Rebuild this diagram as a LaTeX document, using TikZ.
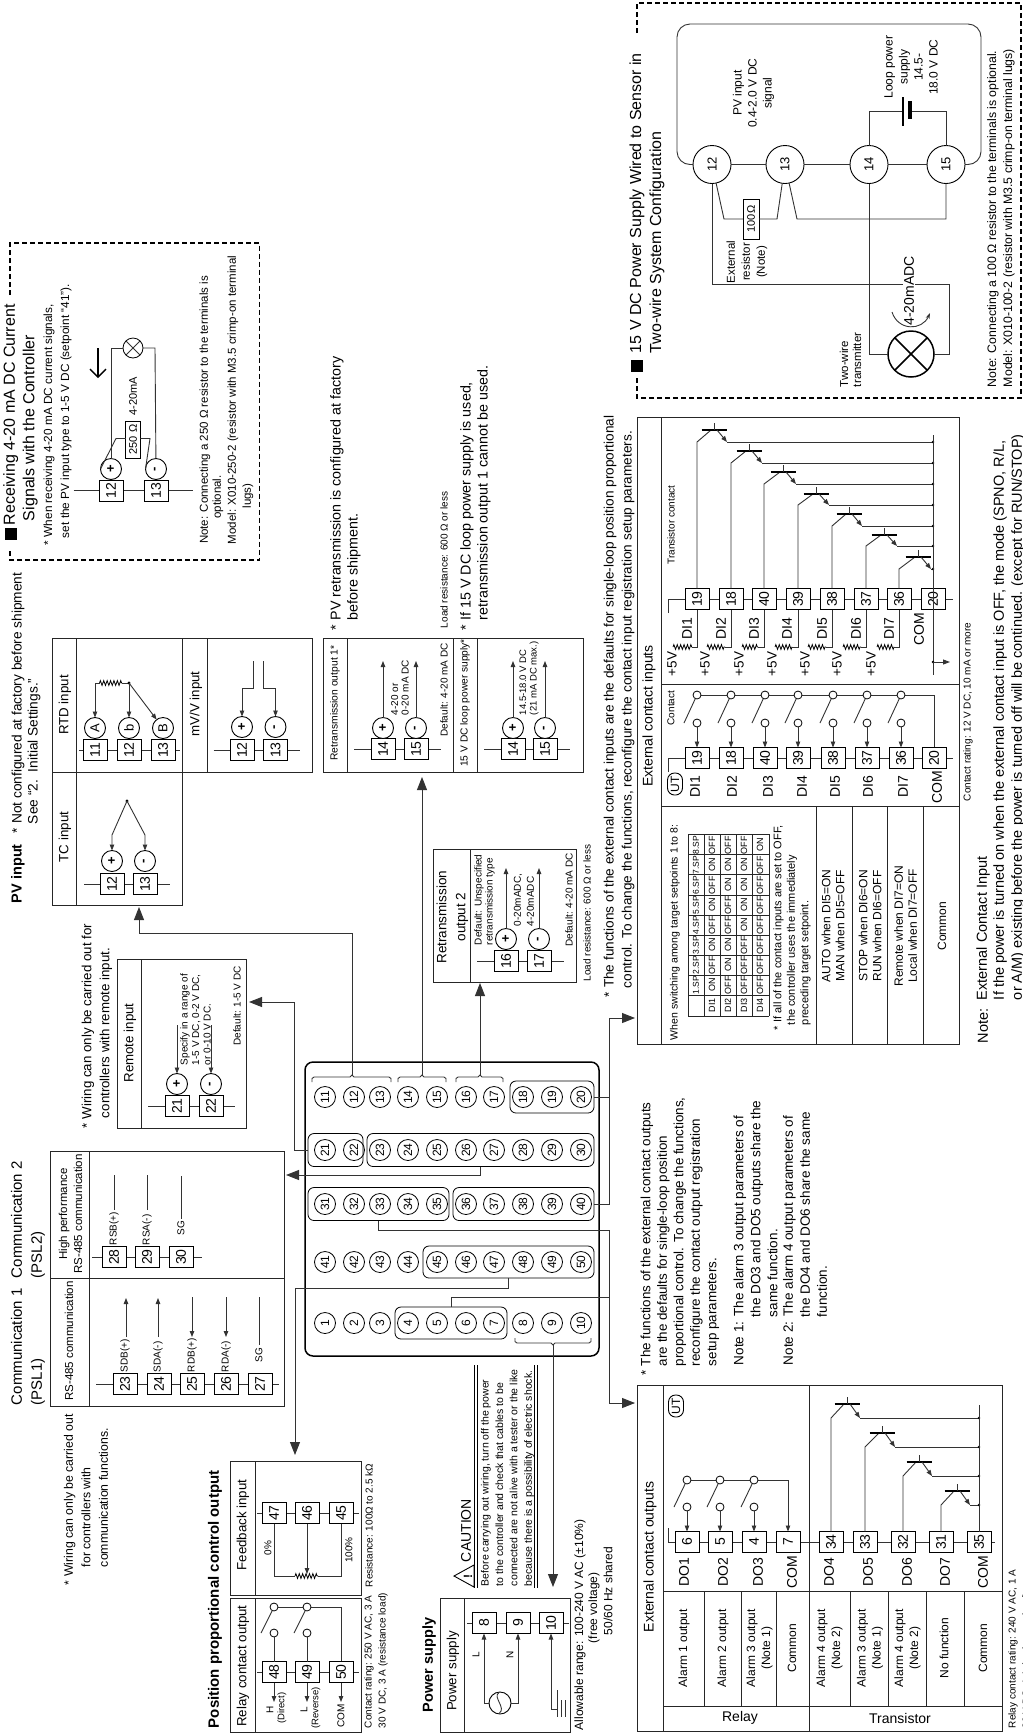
\documentclass[tikz,border=0pt]{standalone}
\usepackage{fontspec}
\setmainfont{Liberation Sans}
\usetikzlibrary{arrows.meta,backgrounds,decorations.pathmorphing}
\newcounter{tn}
\newcommand\fs[2]{\fontsize{#1}{#2}\selectfont}
\newcommand\tx[4][]{\stepcounter{tn}\node[rtext,#1] (tx\arabic{tn}) at (#2,#3) {#4};}
\newcommand\Tb[4]{\node[termbox] (#1) at (#2,#3) {#4};}
\newcommand\PM[4]{\node[pmc] (#1) at (#2,#3) {#4};}
\newcommand\frm[5]{\node[framebox,minimum width={(#4-#2)*1pt},minimum height={(#5-#3)*1pt}] (#1) at ({(#2+#4)/2},{(#3+#5)/2}) {};}
\newcommand\lnn[4]{\draw[frameline] (#1,#2) -- (#3,#4);}
\newcommand\res[3]{\draw[resist] (#1,#3) -- (#2,#3);}
\newcommand\strip[3]{\draw[wire] (#1.center -| #2,0) -- (#1.center -| #3,0);}
\newcommand\grp[5]{\node[grpbox,minimum width=#4,minimum height=#5] (#1) at (#2,#3) {};}
\newcommand\brk[6]{\coordinate (#1) at (#3,{#5-2*#6});
 \draw[wire] (#2,{#5+5*#6}) -- (#2,{#5+1.5*#6}) -- ({#2+2},#5) -- ({#3-2},#5) -- (#1) -- ({#3+2},#5) -- ({#4-2},#5) -- (#4,{#5+1.5*#6}) -- (#4,{#5+5*#6});}
\newcommand\cont[5][]{\node[ring] (#2u) at (#3,#4) {}; \node[ring] (#2l) at (#3,#5) {};
 \draw[wire] (#2u) -- ({#3-13},#5); \draw[wire,#1] (#2l) -- (#2.east);}
% transistor: terminal, base x, bar y, emitter y, bus x
\newcommand\tran[5]{\coordinate (#1c) at (#1.center |- 0,#4); \coordinate (#1e) at (#5,#4);
 \draw[wire] (#1.east) -- (#1c) -- ({#2-3},#3);
 \draw[thick wire] ({#2-12.5},#3) -- ({#2+12.5},#3);
 \draw[wire] (#2,{#3-7}) -- (#2,#3);
 \draw[wire,sarrow] ({#2+3},#3) -- ({#2+13},#4);
 \draw[wire] ({#2+13},#4) -- (#1e);
 \fill (#1e) circle (1.4);}
\newcommand\trow[3]{\tx[font=\fs{9}{10}]{#1}{1005}{#2}\foreach \v [count=\i] in {#3}{\pgfmathsetmacro\yy{1005-20*\i}\tx[font=\fs{9}{10}]{#1}{\yy}{\v}}}
\tikzset{
 wire/.style={line width=.9pt,draw=black!80},
 thick wire/.style={line width=1.5pt,draw=black},
 frameline/.style={line width=.9pt,draw=black!85},
 framebox/.style={draw=black!85,line width=.9pt,inner sep=0,outer sep=0},
 termbox/.style={draw=black,line width=.9pt,fill=white,rotate=90,minimum width=21pt,minimum height=24pt,inner sep=0,outer sep=0,font=\fs{14}{14}},
 pmc/.style={draw=black,line width=.9pt,fill=white,circle,rotate=90,minimum size=21pt,inner sep=0,outer sep=0,font=\bfseries\fs{13}{13}},
 ring/.style={draw=black,line width=.8pt,fill=white,circle,minimum size=8pt,inner sep=0,outer sep=0},
 cterm/.style={draw=black,line width=.8pt,circle,rotate=90,minimum size=21pt,inner sep=0,outer sep=0,font=\fs{12}{12}},
 bigterm/.style={draw=black,line width=.9pt,fill=white,circle,rotate=90,minimum size=38pt,inner sep=0,outer sep=0,font=\fs{13}{13}},
 grpbox/.style={draw=black,line width=.8pt,rounded corners=6pt,inner sep=0,outer sep=0},
 rtext/.style={rotate=90,inner sep=0,outer sep=0,align=center,font=\fs{12}{17}},
 lft/.style={anchor=west,align=left},
 sarrow/.style={-{Triangle[length=6pt,width=4.5pt]}},
 bigar/.style={-{Triangle[length=13pt,width=10pt]}},
 resist/.style={line width=.8pt,decorate,decoration={zigzag,segment length=3.4pt,amplitude=2.4pt}},
 dashbox/.style={line width=1.2pt,dash pattern=on 5pt off 3pt},
}
\begin{document}
\begin{tikzpicture}[x=1pt,y=-1pt]
\useasboundingbox (0,0) rectangle (1023,1733);

%%% ---------- central terminal block
\node[draw=black,line width=1.5pt,rounded corners=8pt,minimum width=294pt,minimum height=294pt,inner sep=0,outer sep=0] (block) at (452,1209) {};
\foreach \base/\yy in {10/1097,20/1150,30/1204,40/1262,0/1323}{
 \foreach \k/\xx in {1/325,2/354,3/380,4/408,5/437,6/466,7/494,8/523,9/552,10/581}{
  \pgfmathtruncatemacro\n{\base+\k}
  \node[cterm] (c\n) at (\xx,\yy) {\n};
 }}
\grp{g18}{552}{1097}{84pt}{32pt}
\grp{g21}{335.5}{1150}{55pt}{33pt}
\grp{g23}{480.5}{1150}{227pt}{33pt}
\grp{g31}{378.5}{1204}{141pt}{33pt}
\grp{g36}{523.5}{1204}{141pt}{33pt}
\grp{g45}{508.5}{1262}{171pt}{32pt}
\grp{g4}{451}{1323}{112pt}{32pt}
\brk{b1}{312}{352}{391}{1077}{1}
\brk{b2}{398}{422}{446}{1077}{1}
\brk{b3}{456}{480}{503}{1077}{1}
\brk{b4}{515}{553}{591}{1343}{-1}

%%% ---------- frames
\frm{posR}{230}{1598}{361}{1732}
\frm{fbbox}{230}{1461}{361}{1595}
\frm{pwr}{440}{1598}{570}{1732}
\frm{comm}{50.5}{1151}{284}{1406}
\frm{rem}{117}{959}{246}{1128}
\frm{ret2}{433}{849}{576}{982}
\frm{ret1}{323}{638}{583}{772}
\frm{pvtop}{52}{638}{312}{772}
\frm{tcbox}{52}{772}{182}{905}
\frm{einbox}{637}{417}{959}{1044}
\frm{eoutbox}{637}{1385}{1002}{1731}

%%% ---------- connectors from the block
\coordinate (jtc) at (139,933);
\draw[wire,bigar,shorten >=2pt] (b1) |- (jtc) -- (jtc |- tcbox.south);
\draw[wire,bigar,shorten >=5pt] (b2) -- (b2 |- ret1.south);
\draw[wire,bigar,shorten >=1pt] (b3) -- (b3 |- ret2.south);
\coordinate (ji) at (609,1018); \coordinate (jo) at (609,1230); \coordinate (jo2) at (609,1403); \coordinate (jo3) at (609,1297);
\draw[wire,bigar,shorten >=2pt] (g36.east) -| (ji) -- (ji -| einbox.west);
\draw[wire] (g18.east) -- (g18.east -| ji);
\draw[wire,bigar,shorten >=2pt] (g31.south) |- (jo) -- (jo2) -- (jo2 -| eoutbox.west);
\draw[wire] (g4.north) |- (jo3);
\coordinate (jp) at (295,1288);
\draw[wire,bigar,shorten >=6pt] (g45.south) |- (jp) -- (jp |- fbbox.north);
\coordinate (jr1) at (294,1150); \coordinate (jr2) at (294,1002);
\draw[wire,bigar,shorten >=3pt] (g21.west) -- (jr1) -- (jr2) -- (jr2 -| rem.east);
\coordinate (jc) at (480.5,1175);
\draw[wire,bigar,shorten >=2pt] (g23.south) -- (jc) -- (jc -| comm.east);
\draw[wire,bigar,shorten >=11pt] (b4) -- (b4 |- pwr.north);

%%% ---------- position proportional output
\tx[font=\bfseries\fs{15}{15},lft]{215}{1728}{Position proportional control output}
\lnn{255}{1461}{255}{1595}\lnn{255}{1598}{255}{1732}
\tx[font=\fs{13.3}{13}]{243}{1666}{Relay contact output}
\tx[font=\fs{13.3}{13}]{243}{1525}{Feedback input}
\Tb{T47}{274}{1513}{47}\Tb{T46}{307}{1513}{46}\Tb{T45}{341}{1513}{45}
\coordinate (fa) at (295,1576);\coordinate (fb) at (318,1576);\coordinate (fd) at (307,1574);
\res{295}{318}{1576}
\draw[wire] (T47.west) |- (fa);
\draw[wire] (T45.west) |- (fb);
\draw[wire,sarrow] (T46.west) -- (fd);
\tx[font=\fs{10}{10}]{268}{1548}{0\%}
\tx[font=\fs{10}{10}]{349}{1550}{100\%}
\tx[font=\fs{10}{10},lft]{369}{1587}{Resistance: 100Ω to 2.5 kΩ}
\Tb{T48}{274}{1672}{48}\Tb{T49}{307}{1672}{49}\Tb{T50}{341}{1672}{50}
\cont{T48}{274}{1607}{1633}
\cont{T49}{307}{1607}{1633}
\coordinate (o1) at (274,1702);\coordinate (o2) at (307,1702);\coordinate (o3) at (341,1702);
\draw[wire,sarrow] (T48.west) -- (o1);
\draw[wire,sarrow] (T49.west) -- (o2);
\draw[wire,sarrow] (T50.west) -- (o3);
\tx[font=\fs{10}{10}]{270}{1710}{H}
\tx[font=\fs{9.5}{10}]{282}{1708}{(Direct)}
\tx[font=\fs{10}{10}]{304}{1710}{L}
\tx[font=\fs{9.5}{10}]{316}{1708}{(Reverse)}
\tx[font=\fs{10}{10}]{341}{1716}{COM}
\tx[font=\fs{10}{14},lft]{376}{1728}{Contact rating: 250 V AC, 3 A\\30 V DC, 3 A (resistance load)}

%%% ---------- power supply
\tx[font=\bfseries\fs{14.5}{15}]{429}{1665}{Power supply}
\lnn{464.5}{1598}{464.5}{1732}
\tx[font=\fs{13.3}{13}]{453}{1671}{Power supply}
\Tb{T8}{484}{1623}{8}\Tb{T9}{518}{1623}{9}\Tb{T10}{551}{1623}{10}
\node[circle,draw=black,line width=.9pt,minimum size=22pt,inner sep=0,outer sep=0] (ac) at (500,1703) {};
\draw[wire] (499,1692.5) .. controls (492,1697) and (507,1708) .. (499,1713.5);
\draw[wire,sarrow] (ac.west) -| (T8.west);
\draw[wire,sarrow] (ac.east) -| (T9.west);
\coordinate (gnd) at (557,1709);
\draw[wire,sarrow] (gnd) -| (T10.west);
\draw[wire] (557,1690) -- (557,1717);\draw[wire] (561,1700) -- (561,1717);\draw[wire] (565,1700) -- (565,1717);
\tx[font=\fs{10}{10}]{476}{1655}{L}
\tx[font=\fs{10}{10}]{510}{1655}{N}
\draw[line width=.9pt] (454,1576) -- (474,1565) -- (474,1587) -- cycle;
\tx[font=\bfseries\fs{12}{12}]{468}{1576}{!}
\tx[font=\fs{14}{14},lft]{466}{1562}{CAUTION}
\draw[line width=.9pt] (474.5,1365) -- (474.5,1588);\draw[line width=.9pt] (477.5,1365) -- (477.5,1588);
\draw[line width=.9pt] (534.5,1365) -- (534.5,1588);\draw[line width=.9pt] (537.5,1365) -- (537.5,1588);
\tx[font=\fs{10.5}{14.4},lft]{507.5}{1586}{Before carrying out wiring, turn off the power\\to the controller and check that cables to be\\connected are not alive with a tester or the like\\because there is a possibility of electric shock.}
\tx[font=\fs{12}{14},lft]{580}{1730}{Allowable range: 100-240 V AC (±10\%)}
\tx[font=\fs{12}{14},lft]{594}{1643}{(free voltage)}
\tx[font=\fs{12}{14},lft]{608}{1635}{50/60 Hz shared}

%%% ---------- communication
\tx[font=\fs{15}{20},lft]{28}{1405}{Communication 1\\(PSL1)}
\tx[font=\fs{15}{20},lft]{28}{1278}{Communication 2\\(PSL2)}
\lnn{89}{1151}{89}{1406}\lnn{50.5}{1278}{284}{1278}
\tx[font=\fs{11.5}{15}]{69}{1341}{RS-485 communication}
\tx[font=\fs{11.5}{15}]{70.5}{1214}{High performance\\RS-485 communication}
\Tb{T23}{125}{1384}{23}\Tb{T24}{159}{1384}{24}\Tb{T25}{192}{1384}{25}\Tb{T26}{226}{1384}{26}\Tb{T27}{260}{1384}{27}
\tx[font=\fs{10}{10},lft]{125}{1372}{SDB(+)}
\tx[font=\fs{10}{10},lft]{158}{1372}{SDA(-)}
\tx[font=\fs{10}{10},lft]{192}{1372}{RDB(+)}
\tx[font=\fs{10}{10},lft]{226}{1372}{RDA(-)}
\tx[font=\fs{10}{10},lft]{259}{1362}{SG}
\coordinate (p1) at (126,1337);\coordinate (q1) at (126,1298);
\coordinate (p2) at (158,1337);\coordinate (q2) at (158,1298);
\coordinate (p3) at (192,1297);\coordinate (q3) at (192,1337);
\coordinate (p4) at (226,1297);\coordinate (q4) at (226,1337);
\coordinate (p5) at (259,1297);\coordinate (q5) at (259,1345);
\draw[wire,sarrow] (p1) -- (q1);\draw[wire,sarrow] (p2) -- (q2);
\draw[wire,sarrow] (p3) -- (q3);\draw[wire,sarrow] (p4) -- (q4);
\draw[wire] (p5) -- (q5);
\Tb{T28}{114}{1257}{28}\Tb{T29}{147}{1257}{29}\Tb{T30}{181}{1257}{30}
\tx[font=\fs{10}{10},lft]{114}{1245}{RSB(+)}
\tx[font=\fs{10}{10},lft]{147}{1245}{RSA(-)}
\tx[font=\fs{10}{10},lft]{181}{1235}{SG}
\coordinate (r1) at (114,1175);\coordinate (s1) at (114,1210);
\coordinate (r2) at (147,1175);\coordinate (s2) at (147,1210);
\coordinate (r3) at (181,1176);\coordinate (s3) at (181,1219);
\draw[wire] (r1) -- (s1);\draw[wire] (r2) -- (s2);\draw[wire] (r3) -- (s3);
\tx[font=\fs{12.3}{17.5},lft]{86}{1585}{* Wiring can only be carried out\\\hspace*{18pt}for controllers with\\\hspace*{18pt}communication functions.}

%%% ---------- remote input
\lnn{141}{959}{141}{1128}
\tx[font=\fs{13.3}{13}]{130}{1043}{Remote input}
\tx[font=\fs{13.3}{18},lft]{97}{1128}{* Wiring can only be carried out for\\\hspace*{10pt}controllers with remote input.}
\Tb{T21}{177}{1106}{21}\Tb{T22}{211}{1106}{22}
\PM{P21}{177}{1084}{+}\PM{P22}{211}{1084}{-}
\coordinate (u1) at (177,1025);\coordinate (u2) at (211,1025);
\draw[wire,sarrow] (u1) -- (P21);\draw[wire,sarrow] (u2) -- (P22);
\tx[font=\fs{10}{11.5},lft]{195.5}{1065}{Specify in a range of\\1-5 V DC, 0-2 V DC,\\or 0-10 V DC.}
\tx[font=\fs{10}{10}]{237}{1006}{Default: 1-5 V DC}

%%% ---------- retransmission 2
\lnn{470}{849}{470}{982}
\tx[font=\fs{13.5}{19}]{452.5}{917}{Retransmission\\output 2}
\tx[font=\fs{10}{11},lft]{484.5}{945}{Default: Unspecified\\retransmission type}
\Tb{T16}{506}{961}{16}\Tb{T17}{539}{961}{17}
\PM{P16}{506}{939}{+}\PM{P17}{539}{939}{-}
\coordinate (v1) at (506,868);\coordinate (v2) at (539,868);
\draw[wire,sarrow] (P16) -- (v1);\draw[wire,sarrow] (P17) -- (v2);
\tx[font=\fs{10}{13},lft]{524}{926}{0-20mADC,\\4-20mADC}
\tx[font=\fs{10}{10}]{569}{900}{Default: 4-20 mA DC}
\tx[font=\fs{10}{10}]{587}{913}{Load resistance: 600 Ω or less}

%%% ---------- retransmission 1
\lnn{347}{638}{347}{772}\lnn{453}{638}{453}{772}\lnn{477}{638}{477}{772}
\tx[font=\fs{10.3}{11}]{335}{703}{Retransmission output 1*}
\tx[font=\fs{10.2}{11}]{465}{703}{15 V DC loop power supply*}
\Tb{T14}{383}{749}{14}\Tb{T15}{416}{749}{15}
\PM{P14}{383}{728}{+}\PM{P15}{416}{728}{-}
\coordinate (w1) at (383,661);\coordinate (w2) at (416,661);
\draw[wire,sarrow] (P14) -- (w1);\draw[wire,sarrow] (P15) -- (w2);
\tx[font=\fs{10}{10.5},lft]{400}{715}{4-20 or\\0-20 mA DC}
\tx[font=\fs{10}{10}]{444}{690}{Default: 4-20 mA DC}
\Tb{Tx14}{513}{749}{14}\Tb{Tx15}{545}{749}{15}
\PM{Px14}{513}{728}{+}\PM{Px15}{545}{728}{-}
\coordinate (w3) at (513,661);\coordinate (w4) at (545,661);
\draw[wire,sarrow] (Px14) -- (w3);\draw[wire,sarrow] (Px15) -- (w4);
\tx[font=\fs{9.5}{10.5},lft]{529}{715}{14.5-18.0 V DC\\(21 mA DC max.)}
\tx[font=\fs{10}{10},lft]{444}{628}{Load resistance: 600 Ω or less}
\tx[font=\fs{14.3}{17},lft]{345.5}{630}{* PV retransmission is configured at factory\\\hspace*{10pt}before shipment.}
\tx[font=\fs{14.3}{17},lft]{475.5}{630}{* If 15 V DC loop power supply is used,\\\hspace*{10pt}retransmission output 1 cannot be used.}

%%% ---------- PV input
\tx[font=\bfseries\fs{14.5}{15},lft]{18}{903}{PV input}
\tx[font=\fs{13.7}{16},lft]{26}{833}{* Not configured at factory before shipment\\\hspace*{9pt}See “2.\ \ Initial Settings.”}
\lnn{76.5}{638}{76.5}{905}\lnn{182}{638}{182}{772}\lnn{207}{638}{207}{772}
\tx[font=\fs{13.3}{13}]{65}{705}{RTD input}
\tx[font=\fs{13.3}{13}]{196}{704}{mV/V input}
\tx[font=\fs{13.3}{13}]{65}{837}{TC input}
\Tb{Ra}{95}{750}{11}\Tb{Rb}{129}{750}{12}\Tb{Rc}{163}{750}{13}
\PM{CA}{95}{728}{\mdseries A}\PM{Cb}{129}{728}{\mdseries b}\PM{CB}{163}{728}{\mdseries B}
\coordinate (ra) at (95,683);\coordinate (rb) at (99.5,683);\coordinate (rc) at (122,683);\coordinate (rd) at (129,683);
\res{99.5}{122}{683}
\draw[wire] (rb) -- (ra);\draw[wire] (rc) -- (rd);
\fill (rd) circle (1.6);
\draw[wire,sarrow] (ra) -- (CA);\draw[wire,sarrow] (rd) -- (Cb);\draw[wire,sarrow] (rd) -- (CB);
\Tb{Mp}{242}{750}{12}\Tb{Mm}{275.5}{750}{13}
\PM{MP}{242}{727}{+}\PM{MM}{275.5}{727}{-}
\coordinate (m1) at (253,661);\coordinate (m2) at (253,688);\coordinate (m3) at (242,688);
\coordinate (m4) at (263,661);\coordinate (m5) at (263,688);\coordinate (m6) at (275.5,688);
\draw[wire,sarrow] (m1) -- (m2) -- (m3) -- (MP);
\draw[wire,sarrow] (m4) -- (m5) -- (m6) -- (MM);
\Tb{Tp}{112}{884}{12}\Tb{Tm}{145}{884}{13}
\PM{TP}{112}{861}{+}\PM{TM}{145}{861}{-}
\coordinate (t0) at (127,801);\coordinate (t1) at (112,835);\coordinate (t2) at (145,835);
\fill (t0) circle (1.6);
\draw[wire,sarrow] (t0) -- (t1) -- (TP);
\draw[wire,sarrow] (t0) -- (t2) -- (TM);

%%% ---------- receiving 4-20 mA box
\draw[dashbox] (10,295) -- (10,243) -- (259.5,243) -- (259.5,560) -- (10,560) -- (10,550);
\fill (5,528) rectangle (17,540);
\tx[font=\fs{16}{19.5},lft]{20.5}{525}{Receiving 4-20 mA DC Current\\\hspace*{4pt}Signals with the Controller}
\tx[font=\fs{11.8}{17},lft]{57.5}{545}{* When receiving 4-20 mA DC current signals,\\\hspace*{7pt}set the PV input type to 1-5 V DC (setpoint “41”).}
\Tb{R12}{111}{490.5}{12}\Tb{R13}{156}{490.5}{13}
\PM{Rp}{111}{469}{+}\PM{Rm}{156}{469}{-}
\node[draw=black,line width=.8pt,rotate=90,minimum width=37pt,minimum height=14.5pt,inner sep=0,outer sep=0,font=\fs{11}{11}] (r250) at (133,439.5) {250 Ω};
\coordinate (r1a) at (116,438.5);\coordinate (r1b) at (150,438.5);
\draw[wire] (Rp.north) -- (r1a) -- (r1a -| r250.north);
\draw[wire] (r250.south |- r1b) -- (r1b) -- (Rm.north);
\node[draw=black,line width=.8pt,circle,minimum size=20pt,inner sep=0,outer sep=0] (lampa) at (133,348) {};
\draw[wire] (lampa.45) -- (lampa.225);\draw[wire] (lampa.135) -- (lampa.315);
\coordinate (la1) at (111,348);\coordinate (la2) at (155,348);
\draw[wire] (Rp) -- (la1) -- (lampa.west);
\draw[wire] (Rm) -- (la2) -- (lampa.east);
\tx[font=\fs{11}{11}]{133}{396}{4-20mA}
\coordinate (aa) at (98,348);\coordinate (ab) at (98,378);
\draw[line width=1.4pt,-{Straight Barb[length=8pt,width=16pt]}] (aa) -- (ab);
\tx[font=\fs{11.5}{15}]{205}{410}{Note: Connecting a 250 Ω resistor to the terminals is}
\tx[font=\fs{11.5}{15}]{218}{497}{optional.}
\tx[font=\fs{11.5}{15}]{233}{400}{Model: X010-250-2 (resistor with M3.5 crimp-on terminal}
\tx[font=\fs{11.5}{15}]{248}{496}{lugs)}

%%% ---------- two-wire box
\draw[dashbox] (637,33) -- (637,3) -- (1021,3) -- (1021,398) -- (637,398) -- (637,377);
\fill (631,360) rectangle (643,372);
\tx[font=\fs{16}{20},lft]{647}{353}{15 V DC Power Supply Wired to Sensor in\\Two-wire System Configuration}
\node[bigterm] (L12) at (712,164.5) {12};
\node[bigterm] (L13) at (785,164.5) {13};
\node[bigterm] (L14) at (869,164.5) {14};
\node[bigterm] (L15) at (946,164.5) {15};
\draw[wire,rounded corners=13pt] (L12.north) -- (677,164.5) -- (677,24) -- (981,24) -- (981,164.5) -- (L15.south);
\draw[wire] (L12) -- (L13);\draw[wire] (L13) -- (L14);\draw[wire] (L14) -- (L15);
\coordinate (bat1) at (903,111);\coordinate (bat2) at (910,111);
\draw[wire] (L14) |- (bat1);\draw[wire] (bat2) -| (L15);
\draw[line width=1.2pt] (903,97) -- (903,126);
\draw[line width=4pt] (910,101) -- (910,119);
\tx[font=\fs{12}{15}]{753.5}{93}{PV input\\0.4-2.0 V DC\\signal}
\tx[font=\fs{12}{15}]{911}{67}{Loop power\\supply\\14.5-\\18.0 V DC}
\node[draw=black,line width=.9pt,rotate=90,minimum width=40pt,minimum height=16pt,inner sep=0,outer sep=0,font=\fs{11}{11}] (r100) at (751,219) {100Ω};
\coordinate (x1) at (724,219);\coordinate (x2) at (777,219);\coordinate (x3) at (797,219);
\draw[wire] (L12) -- (x1) -- (r100.north);
\draw[wire] (r100.south) -- (x2) -- (L13);
\draw[wire] (L13) -- (x3) -| (L15);
\node[draw=black,line width=1.5pt,circle,minimum size=46pt,inner sep=0,outer sep=0] (lampb) at (911,354) {};
\draw[line width=1.5pt] (lampb.45) -- (lampb.225);\draw[line width=1.5pt] (lampb.135) -- (lampb.315);
\coordinate (y1) at (712,284);\coordinate (y2) at (949,284);\coordinate (y3) at (949,354);\coordinate (y4) at (869,354);
\draw[wire] (L12) -- (y1) -- (y2) -- (y3) -- (lampb.east);
\draw[wire] (L14) -- (y4) -- (lampb.west);
\tx[font=\fs{14}{14},fill=white,inner sep=1pt]{909}{291}{4-20mADC}
\coordinate (z1) at (892,312);\coordinate (z2) at (930,313);
\draw[wire,-{Stealth[length=6pt,width=4pt]}] (z1) .. controls (898,331) and (922,331) .. (z2);
\tx[font=\fs{11.5}{15}]{747}{262}{External\\resistor\\(Note)}
\tx[font=\fs{11.5}{13},lft]{850.5}{387}{Two-wire\\transmitter}
\tx[font=\fs{12.3}{16},lft]{1001}{387}{Note: Connecting a 100 Ω resistor to the terminals is optional.\\Model: X010-100-2 (resistor with M3.5 crimp-on terminal lugs)}

%%% ---------- external contact inputs
\lnn{661}{417}{661}{1044}\lnn{661}{684}{959}{684}\lnn{661}{806}{959}{806}
\lnn{816}{806}{816}{1044}\lnn{852}{806}{852}{1044}\lnn{887}{806}{887}{1044}\lnn{923}{806}{923}{1044}
\tx[font=\fs{14}{14}]{649}{716}{External contact inputs}
\tx[font=\fs{10}{10}]{671}{525}{Transistor contact}
\tx[font=\fs{10}{10}]{671}{708}{Contact}
\foreach \n/\xx in {19/697,18/731,40/764,39/798,38/832,37/866,36/899,20/933}{\Tb{Tr\n}{\xx}{599}{\n}}
\foreach \n/\xx in {19/697,18/731,40/765,39/798,38/833,37/867,36/901,20/934}{\Tb{Ca\n}{\xx}{758}{\n}}
\foreach \xx/\t in {687/DI1,721/DI2,754/DI3,787/DI4,822/DI5,856/DI6,889/DI7,919/COM}{\tx[font=\fs{14}{14}]{\xx}{629}{\t}}
\foreach \xx in {672,705,739,772,805,837,871}{\tx[font=\fs{13.5}{14}]{\xx}{664}{+5V}}
\foreach \a/\b/\c/\n in {673/692/697/19,707/725/731/18,742/758/764/40,775/792/798/39,808/826/832/38,843/861/866/37,877/894/899/36}{
 \res{\a}{\b}{647}
 \coordinate (rr\n) at (\b,647);
 \draw[wire] (rr\n) -| (Tr\n.west);
}
\tran{Tr19}{714}{430}{442}{933}
\tran{Tr18}{749}{451}{463}{933}
\tran{Tr40}{783}{472}{484}{933}
\tran{Tr39}{816}{494}{505}{933}
\tran{Tr38}{849}{514}{526}{933}
\tran{Tr37}{884}{535}{546}{933}
\tran{Tr36}{918}{557}{569}{933}
\coordinate (busa) at (933,435);\coordinate (busb) at (933,675);\coordinate (busc) at (933,662);\coordinate (busd) at (950,662);
\draw[wire] (busa) -- (busb);
\fill (busc) circle (1.4);
\draw[wire,-{Triangle[length=7pt,width=5pt]}] (busc) -- (busd);
\foreach \n/\xx in {19/697,18/731,40/765,39/798,38/833,37/867,36/901}{\cont[sarrow]{Ca\n}{\xx}{695}{723}}
\node[draw=black,line width=.9pt,rounded corners=7pt,rotate=90,minimum width=22pt,minimum height=15pt,inner sep=0,outer sep=0,font=\fs{12}{12}] (ut1) at (675,784) {UT};
\foreach \xx/\t in {695/DI1,732/DI2,768/DI3,802/DI4,835/DI5,868/DI6,903/DI7,937/COM}{\tx[font=\fs{14}{14}]{\xx}{787}{\t}}
\tx[font=\fs{10}{10}]{968}{712}{Contact rating: 12 V DC, 10 mA or more}
\tx[font=\fs{10.5}{11},lft]{675}{1040}{When switching among target setpoints 1 to 8:}
% setpoint table
\foreach \xx in {688,704,720,736,752,769}{\draw[frameline,line width=.7pt] (\xx,834) -- (\xx,1016);}
\foreach \yy in {834,854,874.5,895,915,935,955,975,995,1016}{\draw[frameline,line width=.7pt] (688,\yy) -- (769,\yy);}
\foreach \lab [count=\i] in {1.SP,2.SP,3.SP,4.SP,5.SP,6.SP,7.SP,8.SP}{\pgfmathsetmacro\yy{1005-20*\i}\tx[font=\fs{8.5}{10}]{696}{\yy}{\lab}}
\trow{712}{DI1}{ON,OFF,ON,OFF,ON,OFF,ON,OFF}
\trow{728}{DI2}{OFF,ON,ON,OFF,OFF,ON,ON,OFF}
\trow{744}{DI3}{OFF,OFF,OFF,ON,ON,ON,ON,OFF}
\trow{760}{DI4}{OFF,OFF,OFF,OFF,OFF,OFF,OFF,ON}
\tx[font=\fs{11}{13.5},lft]{792}{1030}{* If all of the contact inputs are set to OFF,\\\hspace*{5pt}the controller uses the immediately\\\hspace*{5pt}preceding target setpoint.}
\tx[font=\fs{12}{14}]{833}{926}{AUTO when DI5=ON\\MAN when DI5=OFF}
\tx[font=\fs{12}{14}]{870}{926}{STOP when DI6=ON\\RUN when DI6=OFF}
\tx[font=\fs{12}{14}]{905.5}{926}{Remote when DI7=ON\\Local when DI7=OFF}
\tx[font=\fs{12}{14}]{942}{926}{Common}
\tx[font=\fs{13.6}{18},lft]{619}{997}{* The functions of the external contact inputs are the defaults for single-loop position proportional\\\hspace*{9pt}control. To change the functions, reconfigure the contact input registration setup parameters.}
\tx[font=\fs{14.5}{17},lft]{983}{1043}{Note:}
\tx[font=\fs{14.5}{17},lft]{983}{1000}{External Contact Input}
\tx[font=\fs{14.5}{18},lft]{1009}{1000}{If the power is turned on when the external contact input is OFF, the mode (SPNO, R/L,\\or A/M) existing before the power is turned off will be continued. (except for RUN/STOP)}

%%% ---------- external contact outputs notes
\tx[font=\fs{13.4}{16.5},lft]{680}{1375}{* The functions of the external contact outputs\\\hspace*{9pt}are the defaults for single-loop position\\\hspace*{9pt}proportional control. To change the functions,\\\hspace*{9pt}reconfigure the contact output registration\\\hspace*{9pt}setup parameters.}
\tx[font=\fs{13.5}{17},lft]{755.5}{1365}{Note 1: The alarm 3 output parameters of\\\hspace*{48pt}the DO3 and DO5 outputs share the\\\hspace*{48pt}same function.}
\tx[font=\fs{13.5}{17},lft]{805}{1365}{Note 2: The alarm 4 output parameters of\\\hspace*{48pt}the DO4 and DO6 share the same\\\hspace*{48pt}function.}

%%% ---------- external contact outputs
\lnn{663}{1385}{663}{1731}\lnn{809}{1385}{809}{1731}\lnn{663}{1591}{1002}{1591}\lnn{663}{1706}{1002}{1706}
\foreach \xx in {704,741,776,850,888,926,964}{\lnn{\xx}{1591}{\xx}{1706}}
\tx[font=\fs{14}{14}]{650}{1557}{External contact outputs}
\node[inner sep=0,font=\fs{14}{14}] (lblrelay) at (740,1718) {Relay};
\node[inner sep=0,font=\fs{14}{14}] (lbltrans) at (900,1718) {Transistor};
\tx[font=\fs{12}{15}]{684}{1648}{Alarm 1 output}
\tx[font=\fs{12}{15}]{723}{1648}{Alarm 2 output}
\tx[font=\fs{12}{15}]{759.5}{1648}{Alarm 3 output\\(Note 1)}
\tx[font=\fs{12}{15}]{792}{1648}{Common}
\tx[font=\fs{12}{15}]{829.5}{1648}{Alarm 4 output\\(Note 2)}
\tx[font=\fs{12}{15}]{870}{1648}{Alarm 3 output\\(Note 1)}
\tx[font=\fs{12}{15}]{907.5}{1648}{Alarm 4 output\\(Note 2)}
\tx[font=\fs{12}{15}]{944}{1648}{No function}
\tx[font=\fs{12}{15}]{983}{1648}{Common}
\foreach \n/\xx in {6/687,5/720,4/754,7/788,34/831,33/865,32/903,31/941,35/979}{\Tb{Do\n}{\xx}{1542}{\n}}
\foreach \xx/\t in {684/DO1,723/DO2,758/DO3,792/COM,829/DO4,868/DO5,907/DO6,945/DO7,983/COM}{\tx[font=\fs{14}{14}]{\xx}{1572}{\t}}
\foreach \n/\xx in {6/687,5/720,4/754}{\cont[sarrow]{Do\n}{\xx}{1480}{1507}}
\tran{Do34}{847}{1404}{1418}{979}
\tran{Do33}{882}{1433}{1447}{979}
\tran{Do32}{919}{1462}{1476}{979}
\tran{Do31}{957}{1491}{1505}{979}
\coordinate (bdo) at (979,1405);
\draw[wire] (bdo) -- (Do35.east);
\node[draw=black,line width=.9pt,rounded corners=7pt,rotate=90,minimum width=22pt,minimum height=15pt,inner sep=0,outer sep=0,font=\fs{12}{12}] (ut2) at (676,1406) {UT};
\tx[font=\fs{10}{14},lft]{1020}{1728}{Relay contact rating: 240 V AC, 1 A\\30 V DC, 1 A (resistance load)}

%%% ---------- strips and buses, behind the boxes
\begin{scope}[on background layer]
\fill[white] (0,0) rectangle (1023,1733);
\strip{T47}{257}{359}
\strip{T48}{257}{359}
\strip{T8}{467}{569}
\strip{T23}{96}{279}
\strip{T28}{92}{202}
\strip{T21}{148}{235}
\strip{T16}{477}{564}
\strip{T14}{354}{441}
\strip{Tx14}{484}{570}
\strip{Ra}{79}{180}
\strip{Mp}{213.5}{300}
\strip{Tp}{84}{170}
\strip{R12}{73.5}{192.5}
\strip{Tr19}{668}{953}
\strip{Ca19}{668}{953}
\strip{Do6}{668}{995}
\coordinate (st1) at (668,613);\coordinate (st2) at (668,772);\coordinate (st3) at (668,1528);
\draw[wire] (st1) -- (st1 |- Tr19.center);
\draw[wire] (st2) -- (st2 |- Ca19.center);
\draw[wire] (st3) -- (st3 |- Do6.center);
\draw[wire] (T48u) -- (T49u) -| (T50.center);
\draw[wire] (Ca19u) -- (Ca36u) -| (Ca20.center);
\draw[wire,sarrow] (Do6u) -- (Do4u) -| (Do7.east);
\end{scope}
\end{tikzpicture}
\end{document}
